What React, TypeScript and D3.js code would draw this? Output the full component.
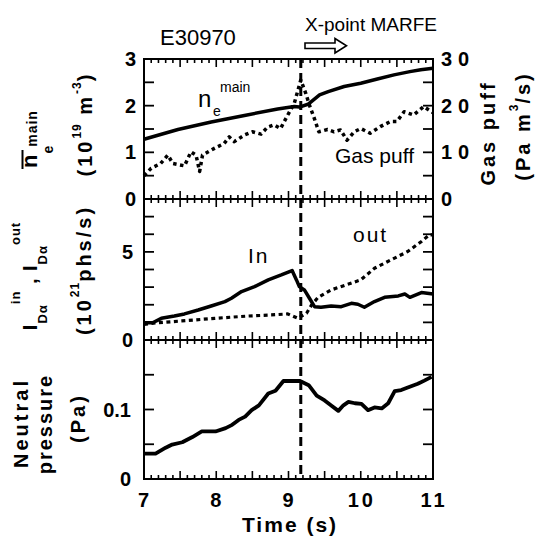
import React from "react";
import * as d3 from "d3";

// ---------- data ----------
const xTickLabels = [7, 8, 9, 10, 11];
const marfeTime = 9.17;

const neT = [7.0, 7.47, 7.93, 8.39, 8.85, 9.08, 9.15, 9.27, 9.43, 9.55, 9.77, 10.0, 10.23, 10.46, 10.68, 10.83, 11.0];
const neV = [1.28, 1.49, 1.65, 1.79, 1.93, 1.98, 1.97, 2.03, 2.23, 2.3, 2.41, 2.48, 2.57, 2.66, 2.73, 2.77, 2.8];

const gasT = [7.0, 7.1, 7.23, 7.33, 7.4, 7.56, 7.65, 7.72, 7.77, 7.81, 7.98, 8.11, 8.18, 8.25, 8.39, 8.5, 8.62, 8.71, 8.8, 8.89, 8.99, 9.08, 9.17, 9.24, 9.29, 9.35, 9.42, 9.54, 9.63, 9.72, 9.81, 9.91, 10.0, 10.13, 10.27, 10.41, 10.5, 10.6, 10.73, 10.87, 11.0];
const gasV = [5.0, 6.6, 7.6, 9.4, 7.6, 7.1, 10.1, 9.4, 5.9, 9.4, 10.9, 11.9, 13.3, 12.3, 13.7, 14.4, 13.9, 15.4, 15.9, 15.1, 18.0, 20.5, 25.5, 22.6, 20.1, 17.6, 14.4, 14.9, 14.4, 14.8, 12.6, 14.4, 15.1, 14.1, 15.5, 16.6, 16.6, 18.7, 18.0, 19.8, 18.5];

const inT = [7.0, 7.12, 7.24, 7.42, 7.56, 7.75, 7.93, 8.12, 8.21, 8.35, 8.53, 8.72, 8.9, 9.05, 9.11, 9.15, 9.22, 9.29, 9.36, 9.45, 9.59, 9.73, 9.87, 9.96, 10.05, 10.19, 10.33, 10.52, 10.61, 10.68, 10.84, 11.0];
const inV = [0.98, 0.98, 1.23, 1.36, 1.48, 1.7, 1.93, 2.18, 2.37, 2.75, 3.03, 3.41, 3.69, 3.94, 3.41, 3.03, 2.84, 2.37, 1.89, 1.86, 1.93, 1.89, 2.08, 2.03, 1.86, 2.18, 2.42, 2.5, 2.61, 2.42, 2.69, 2.61];

const outT = [7.0, 7.19, 7.52, 7.98, 8.44, 8.76, 8.99, 9.13, 9.25, 9.32, 9.41, 9.59, 9.82, 10.0, 10.19, 10.42, 10.65, 10.84, 10.95, 11.0];
const outV = [0.89, 0.98, 1.08, 1.23, 1.36, 1.42, 1.48, 1.23, 1.52, 1.99, 2.42, 2.84, 3.16, 3.41, 4.07, 4.55, 5.02, 5.59, 5.97, 5.97];

const pT = [7.0, 7.16, 7.3, 7.39, 7.53, 7.67, 7.8, 7.99, 8.13, 8.22, 8.31, 8.4, 8.49, 8.59, 8.72, 8.82, 8.93, 9.16, 9.28, 9.39, 9.5, 9.6, 9.69, 9.76, 9.83, 9.92, 10.01, 10.1, 10.19, 10.29, 10.38, 10.47, 10.56, 10.66, 10.79, 10.88, 10.98];
const pV = [0.0364, 0.0364, 0.045, 0.0496, 0.0529, 0.0604, 0.0684, 0.0684, 0.0732, 0.0779, 0.085, 0.0897, 0.099, 0.106, 0.123, 0.127, 0.141, 0.141, 0.135, 0.12, 0.113, 0.105, 0.098, 0.106, 0.111, 0.109, 0.108, 0.099, 0.103, 0.1015, 0.109, 0.1265, 0.128, 0.132, 0.137, 0.1416, 0.147];

const p1LeftTicks = [0.5, 1, 1.5, 2, 2.5];
const p1LeftLabels = ["3", "2", "1", "0"];
const p1RightLabels = ["30", "20", "10", "0"];
const p2Ticks = [1, 2, 3, 4, 5, 6, 7];
const p2Labels = ["5", "0"];
const p3Ticks = [0.05, 0.1, 0.15];
const p3Labels = ["0.1", "0"];

// ---------- layout ----------
const W = 536, H = 538;
const L = 144, R = 433;
const FONT = "'Liberation Sans', Arial, Helvetica, sans-serif";

const x = d3.scaleLinear().domain([7, 11]).range([L, R]);
const y1 = d3.scaleLinear().domain([0, 3]).range([199, 59]);
const y1r = d3.scaleLinear().domain([0, 30]).range([199, 59]);
const y2 = d3.scaleLinear().domain([0, 8]).range([340, 199]);
const y3 = d3.scaleLinear().domain([0, 0.2]).range([479, 340]);

function pathOf(ts: number[], vs: number[], ys: d3.ScaleLinear<number, number>) {
  const pts: [number, number][] = ts.map((t, i) => [x(t), ys(vs[i])]);
  return d3.line()(pts) || "";
}

const minorX = d3.range(70, 111).map((i) => i / 10);

function XTicks({ top, bottom }: { top: number; bottom: number }) {
  return (
    <g stroke="#000" strokeWidth={1.6}>
      {minorX.map((t, i) => {
        const len = i % 5 === 0 ? 8 : 4;
        return (
          <g key={i}>
            <line x1={x(t)} x2={x(t)} y1={top} y2={top + len} />
            <line x1={x(t)} x2={x(t)} y1={bottom} y2={bottom - len} />
          </g>
        );
      })}
    </g>
  );
}

function YTicks({ vals, ys }: { vals: number[]; ys: d3.ScaleLinear<number, number> }) {
  return (
    <g stroke="#000" strokeWidth={1.8}>
      {vals.map((v, i) => (
        <g key={i}>
          <line x1={L} x2={L + 10} y1={ys(v)} y2={ys(v)} />
          <line x1={R} x2={R - 10} y1={ys(v)} y2={ys(v)} />
        </g>
      ))}
    </g>
  );
}

function Rot({ x: bx, y: cy, children, size = 20, ls = 3, anchor = "middle" }: any) {
  return (
    <text
      transform={`translate(${bx},${cy}) rotate(-90)`}
      textAnchor={anchor}
      fontFamily={FONT}
      fontWeight="bold"
      fontSize={size}
      letterSpacing={ls}
      fill="#000"
    >
      {children}
    </text>
  );
}

export default function App() {
  const tickLabelStyle = { fontFamily: FONT, fontWeight: "bold" as const, fontSize: 20 };
  return (
    <svg width={W} height={H} style={{ position: "absolute", left: 0, top: 0, background: "#fff" }}>
      <rect x={0} y={0} width={W} height={H} fill="#fff" />

      {/* frames */}
      <g fill="none" stroke="#000" strokeWidth={2}>
        <rect x={L} y={59} width={R - L} height={140} />
        <rect x={L} y={199} width={R - L} height={141} />
        <rect x={L} y={340} width={R - L} height={139} />
      </g>

      <XTicks top={59} bottom={199} />
      <XTicks top={199} bottom={340} />
      <XTicks top={340} bottom={479} />
      <YTicks vals={p1LeftTicks} ys={y1} />
      <YTicks vals={p2Ticks} ys={y2} />
      <YTicks vals={p3Ticks} ys={y3} />

      {/* left tick labels */}
      <g {...tickLabelStyle} textAnchor="end" dominantBaseline="central">
        {p1LeftLabels.map((s) => (
          <text key={"a" + s} x={L - 8} y={y1(+s)}>{s}</text>
        ))}
        {p2Labels.map((s) => (
          <text key={"b" + s} x={L - 11} y={y2(+s)}>{s}</text>
        ))}
        {p3Labels.map((s) => (
          <text key={"c" + s} x={L - 13} y={y3(+s)}>{s}</text>
        ))}
      </g>
      {/* right tick labels */}
      <g {...tickLabelStyle} textAnchor="start" dominantBaseline="central" letterSpacing={6}>
        {p1RightLabels.map((s) => (
          <text key={"r" + s} x={R + 8} y={y1r(+s)}>{s}</text>
        ))}
      </g>
      {/* x tick labels */}
      <g {...tickLabelStyle} textAnchor="middle" letterSpacing={3}>
        {xTickLabels.map((t) => (
          <text key={t} x={x(t) + 1} y={507}>{t}</text>
        ))}
      </g>
      <text x={290} y={532} textAnchor="middle" fontFamily={FONT} fontWeight="bold" fontSize={21} letterSpacing={2}>
        Time (s)
      </text>

      {/* data lines */}
      <g fill="none" stroke="#000" strokeLinejoin="round">
        <path d={pathOf(neT, neV, y1)} strokeWidth={3.5} />
        <path d={pathOf(gasT, gasV, y1r)} strokeWidth={3.5} strokeDasharray="3.5 3.5" />
        <path d={pathOf(inT, inV, y2)} strokeWidth={3.5} />
        <path d={pathOf(outT, outV, y2)} strokeWidth={3.2} strokeDasharray="4 3.5" />
        <path d={pathOf(pT, pV, y3)} strokeWidth={3.8} />
        <line x1={x(marfeTime)} x2={x(marfeTime)} y1={59} y2={479} strokeWidth={3} strokeDasharray="9 5" />
      </g>

      {/* annotations */}
      <g fontFamily={FONT} fill="#000">
        <text x={160} y={45} fontSize={22}>E30970</text>
        <text x={305} y={31} fontSize={19}>X-point MARFE</text>
        <path d="M305,43 L335,43 L335,38.5 L346.5,45.8 L335,53 L335,48.5 L305,48.5 Z" fill="#fff" stroke="#000" strokeWidth={1.6} />
        <text x={198} y={107} fontSize={24}>n</text>
        <text x={213} y={116} fontSize={14}>e</text>
        <text x={220} y={92} fontSize={14}>main</text>
        <text x={335} y={163} fontSize={21}>Gas puff</text>
        <text x={248} y={263} fontSize={21} letterSpacing={2}>In</text>
        <text x={353} y={242} fontSize={21} letterSpacing={2}>out</text>
      </g>

      {/* left axis titles */}
      <line x1={22.5} x2={22.5} y1={169} y2={150} stroke="#000" strokeWidth={2} />
      <Rot x={37} y={168} anchor="start" size={22} ls={1}>
        n<tspan fontSize={14} dy={16}>e</tspan><tspan fontSize={14} dy={-16} dx={-2}>main</tspan>
      </Rot>
      <Rot x={92} y={124} size={20} ls={3}>
        (10<tspan fontSize={12} dy={-11} letterSpacing={1}>19</tspan><tspan dy={11}> m</tspan><tspan fontSize={12} dy={-11} letterSpacing={1}>-3</tspan><tspan dy={11}>)</tspan>
      </Rot>

      <Rot x={37} y={276} size={20} ls={1}>
        I<tspan fontSize={13} dy={10}>Dα</tspan><tspan fontSize={13} dy={-27}>in</tspan><tspan dy={17}> , I</tspan><tspan fontSize={13} dy={10}>Dα</tspan><tspan fontSize={13} dy={-27}>out</tspan>
      </Rot>
      <Rot x={91} y={270} size={20} ls={3}>
        (10<tspan fontSize={12} dy={-12} letterSpacing={1}>21</tspan><tspan dy={12}>phs/s)</tspan>
      </Rot>

      <Rot x={28} y={423} size={20} ls={3}>Neutral</Rot>
      <Rot x={52} y={424} size={20} ls={2}>pressure</Rot>
      <Rot x={85} y={418} size={20} ls={3}>(Pa)</Rot>

      {/* right axis titles */}
      <Rot x={495} y={133} size={20} ls={3}>Gas puff</Rot>
      <Rot x={530} y={126} size={20} ls={3}>
        (Pa m<tspan fontSize={12} dy={-12} letterSpacing={1}>3</tspan><tspan dy={12}>/s)</tspan>
      </Rot>
    </svg>
  );
}
